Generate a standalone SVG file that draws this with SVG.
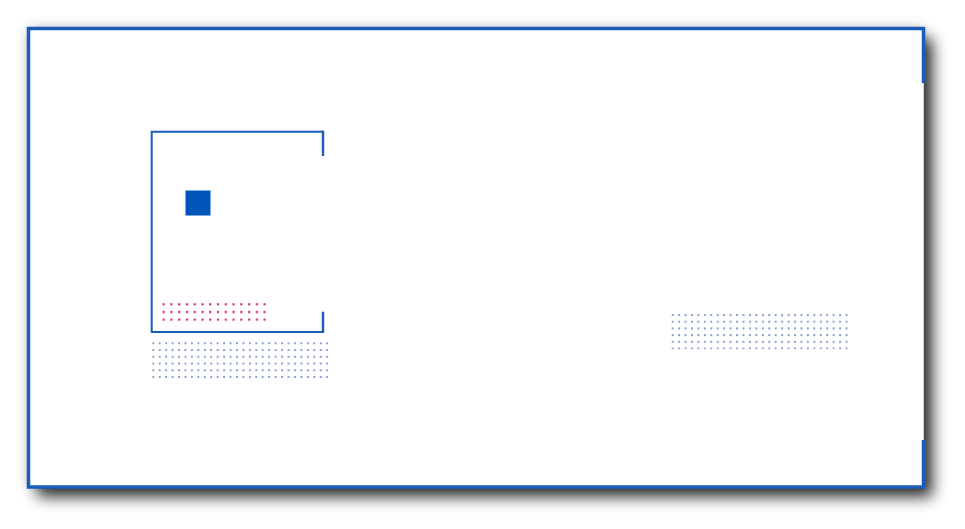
<svg xmlns="http://www.w3.org/2000/svg" width="965" height="529" viewBox="0 0 965 529">
  <defs>
    <filter id="shadow" x="-10%" y="-10%" width="125%" height="135%">
      <feGaussianBlur in="SourceAlpha" stdDeviation="7.5" result="b1"/>
      <feOffset in="b1" dx="9" dy="10" result="o1"/>
      <feComponentTransfer in="o1" result="s1"><feFuncA type="linear" slope="0.8"/></feComponentTransfer>
      <feGaussianBlur in="SourceAlpha" stdDeviation="7" result="b2"/>
      <feComponentTransfer in="b2" result="s2"><feFuncA type="linear" slope="0.25"/></feComponentTransfer>
      <feMerge><feMergeNode in="s2"/><feMergeNode in="s1"/><feMergeNode in="SourceGraphic"/></feMerge>
    </filter>
    <pattern id="dotsGrey" x="152.3" y="342.3" width="6.44" height="6.75" patternUnits="userSpaceOnUse">
      <circle cx="1" cy="1" r="1.1" fill="#7f98cc"/>
    </pattern>
    <pattern id="dotsGrey2" x="671.7" y="314" width="6.44" height="6.7" patternUnits="userSpaceOnUse">
      <circle cx="1" cy="1" r="1.1" fill="#7f98cc"/>
    </pattern>
    <pattern id="dotsRed" x="162.5" y="303.2" width="7.77" height="7.65" patternUnits="userSpaceOnUse">
      <circle cx="1.1" cy="1.1" r="1.3" fill="#d8396a"/>
    </pattern>
  </defs>
  <style>
    .frame { fill: none; stroke: #1a5cb8; stroke-width: 3.5; }
    .inner { fill: none; stroke: #1a5cb8; stroke-width: 2; }
    .innerR { fill: none; stroke: #1a5cb8; stroke-width: 2.4; }
  </style>
  <rect width="965" height="529" fill="#ffffff"/>
  <g id="card">
    <rect x="28.5" y="28.5" width="895" height="458.5" fill="#ffffff" filter="url(#shadow)"/>
    <path class="frame" d="M923.5,83 V28.5 H28.5 V487 H923.5 V440"/>
  </g>
  <g id="panel">
    <path class="inner" d="M323,131.7 H151.7 V332 H323"/>
    <path class="innerR" d="M323,130.7 V156"/>
    <path class="innerR" d="M323,311.7 V333"/>
    <rect x="185.5" y="190.5" width="25" height="25" fill="#0055bb"/>
    <rect x="162" y="302.5" width="104" height="19" fill="url(#dotsRed)"/>
  </g>
  <g id="dots-left">
    <rect x="151.5" y="341.5" width="177" height="37" fill="url(#dotsGrey)"/>
  </g>
  <g id="dots-right">
    <rect x="671" y="313.3" width="177" height="36" fill="url(#dotsGrey2)"/>
  </g>
  <g id="connectors"></g>
</svg>
